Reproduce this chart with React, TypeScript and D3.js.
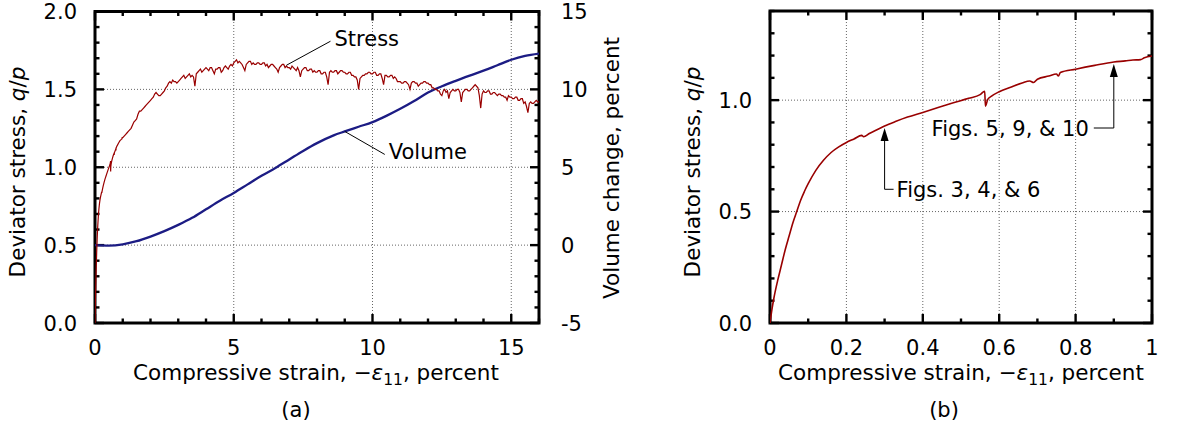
import React from "react";
import * as d3 from "d3";

// ---------- data ----------
// Panel (b) / early part of stress: [compressive strain %, q/p]
const stressEarly: [number, number][] = [
  [0, 0], [0.005, 0.06], [0.01, 0.11], [0.02, 0.19], [0.03, 0.26], [0.04, 0.33],
  [0.05, 0.39], [0.06, 0.45], [0.07, 0.5], [0.08, 0.55], [0.09, 0.59], [0.1, 0.625],
  [0.12, 0.685], [0.14, 0.73], [0.16, 0.765], [0.18, 0.79], [0.2, 0.81], [0.22, 0.826],
  [0.24, 0.842], [0.245, 0.836], [0.26, 0.85], [0.28, 0.867], [0.3, 0.884],
  [0.33, 0.905], [0.36, 0.924], [0.4, 0.945], [0.44, 0.967], [0.48, 0.988],
  [0.52, 1.008], [0.55, 1.025], [0.562, 1.04], [0.564, 0.973], [0.57, 1.003],
  [0.58, 1.018], [0.6, 1.038], [0.63, 1.058], [0.66, 1.077], [0.68, 1.086],
  [0.69, 1.079], [0.7, 1.094], [0.73, 1.108], [0.75, 1.117], [0.755, 1.108],
  [0.76, 1.124], [0.8, 1.139], [0.85, 1.156], [0.9, 1.171], [0.93, 1.176],
  [0.95, 1.18], [0.97, 1.182], [0.98, 1.19], [1.0, 1.198],
];

// Stress, q/p, sampled every 0.05 % strain from 1.0 to 16.0
const stressDenseStart = 1.0;
const stressDenseStep = 0.05;
const stressDense: number[] = [
  1.19, 1.20, 1.21, 1.22, 1.23, 1.24, 1.25, 1.27, 1.29, 1.30, 1.31, 1.34, 1.36, 1.36, 1.37, 1.38, 1.39, 1.40, 1.41, 1.42,
  1.43, 1.44, 1.45, 1.47, 1.48, 1.47, 1.46, 1.46, 1.47, 1.48, 1.49, 1.51, 1.52, 1.54, 1.55, 1.54, 1.56, 1.55, 1.55, 1.54,
  1.55, 1.56, 1.57, 1.58, 1.59, 1.57, 1.58, 1.59, 1.60, 1.58, 1.59, 1.58, 1.52, 1.60, 1.61, 1.62, 1.63, 1.61, 1.62, 1.63,
  1.64, 1.63, 1.62, 1.64, 1.64, 1.62, 1.60, 1.63, 1.63, 1.64, 1.64, 1.61, 1.62, 1.64, 1.65, 1.64, 1.63, 1.65, 1.66, 1.65,
  1.67, 1.68, 1.69, 1.67, 1.68, 1.67, 1.66, 1.64, 1.62, 1.66, 1.67, 1.68, 1.68, 1.66, 1.67, 1.66, 1.66, 1.67, 1.67, 1.66,
  1.66, 1.67, 1.67, 1.65, 1.66, 1.64, 1.65, 1.66, 1.66, 1.65, 1.64, 1.63, 1.61, 1.64, 1.65, 1.66, 1.66, 1.64, 1.65, 1.64,
  1.64, 1.63, 1.65, 1.64, 1.63, 1.62, 1.64, 1.62, 1.58, 1.62, 1.63, 1.64, 1.64, 1.62, 1.62, 1.63, 1.63, 1.61, 1.62, 1.61,
  1.61, 1.62, 1.62, 1.60, 1.60, 1.61, 1.61, 1.58, 1.53, 1.61, 1.62, 1.61, 1.61, 1.62, 1.62, 1.60, 1.61, 1.62, 1.62, 1.61,
  1.61, 1.60, 1.60, 1.61, 1.61, 1.59, 1.59, 1.58, 1.58, 1.56, 1.50, 1.57, 1.58, 1.59, 1.59, 1.60, 1.60, 1.61, 1.61, 1.60,
  1.60, 1.61, 1.61, 1.59, 1.59, 1.60, 1.60, 1.57, 1.53, 1.59, 1.59, 1.58, 1.58, 1.59, 1.59, 1.57, 1.58, 1.57, 1.55, 1.55,
  1.55, 1.54, 1.54, 1.55, 1.55, 1.54, 1.53, 1.50, 1.54, 1.55, 1.55, 1.54, 1.54, 1.52, 1.53, 1.54, 1.54, 1.55, 1.55, 1.54,
  1.54, 1.53, 1.53, 1.51, 1.51, 1.50, 1.50, 1.49, 1.49, 1.47, 1.46, 1.49, 1.50, 1.48, 1.49, 1.44, 1.48, 1.49, 1.50, 1.49,
  1.49, 1.50, 1.50, 1.48, 1.42, 1.48, 1.49, 1.50, 1.50, 1.49, 1.49, 1.50, 1.51, 1.52, 1.53, 1.52, 1.51, 1.46, 1.38, 1.47,
  1.49, 1.48, 1.48, 1.49, 1.49, 1.47, 1.47, 1.48, 1.48, 1.47, 1.46, 1.47, 1.47, 1.46, 1.46, 1.45, 1.45, 1.43, 1.46, 1.45,
  1.45, 1.44, 1.44, 1.45, 1.45, 1.43, 1.43, 1.44, 1.44, 1.41, 1.42, 1.39, 1.35, 1.41, 1.42, 1.41, 1.41, 1.42, 1.43, 1.42,
  1.42,
];

// Volume change, percent: [strain %, volume %]
const volumeData: [number, number][] = [
  [0, 0], [0.5, -0.03], [1, 0.05], [1.5, 0.25], [2, 0.55], [2.5, 0.9], [3, 1.3],
  [3.5, 1.75], [4, 2.3], [4.5, 2.85], [5, 3.35], [5.5, 3.9], [6, 4.45], [6.5, 4.95],
  [7, 5.5], [7.5, 6.05], [8, 6.55], [8.6, 7.05], [9, 7.3], [9.5, 7.6], [10, 7.9],
  [10.5, 8.3], [11, 8.75], [11.5, 9.25], [12, 9.8], [12.5, 10.2], [13, 10.55],
  [13.5, 10.88], [14, 11.2], [14.5, 11.55], [15, 11.9], [15.5, 12.15], [16, 12.3],
];

const aXTicks = [0, 5, 10, 15];
const aYTicks = [0, 0.5, 1.0, 1.5, 2.0];
const aVTicks = [-5, 0, 5, 10, 15];
const bXTicks = [0, 0.2, 0.4, 0.6, 0.8, 1];
const bYTicks = [0, 0.5, 1.0];

const annoB = [
  { label: "Figs. 3, 4, & 6", strain: 0.3, side: "right" },
  { label: "Figs. 5, 9, & 10", strain: 0.9, side: "left" },
];

const FONT = "DejaVu Sans, Verdana, sans-serif";
const FS = 21;
const FT = 21.5;
const RED = "#990000";
const BLUE = "#1c1c84";

type Scale = d3.ScaleLinear<number, number>;

function Frame({ x, y, xMinor, yMinor, xMajor, yMajor, xGrid, yGrid }: {
  x: Scale; y: Scale; xMinor: number[]; yMinor: number[]; xMajor: number[]; yMajor: number[];
  xGrid: number[]; yGrid: number[];
}) {
  const [x0, x1] = x.range();
  const [y0, y1] = y.range();
  const isMaj = (arr: number[], v: number) => arr.some((m) => Math.abs(m - v) < 1e-6);
  return (
    <g>
      {xGrid.map((v) => (
        <line key={"gx" + v} x1={x(v)} x2={x(v)} y1={y0} y2={y1} stroke="#666" strokeWidth={1} strokeDasharray="1 2" />
      ))}
      {yGrid.map((v) => (
        <line key={"gy" + v} x1={x0} x2={x1} y1={y(v)} y2={y(v)} stroke="#666" strokeWidth={1} strokeDasharray="1 2" />
      ))}
      {xMinor.map((v) => {
        const L = isMaj(xMajor, v) ? 9 : 4.5;
        return (
          <g key={"tx" + v}>
            <line x1={x(v)} x2={x(v)} y1={y0} y2={y0 - L} stroke="#000" strokeWidth={2.4} />
            <line x1={x(v)} x2={x(v)} y1={y1} y2={y1 + L} stroke="#000" strokeWidth={2.4} />
          </g>
        );
      })}
      {yMinor.map((v) => {
        const L = isMaj(yMajor, v) ? 9 : 4.5;
        return (
          <g key={"ty" + v}>
            <line x1={x0} x2={x0 + L} y1={y(v)} y2={y(v)} stroke="#000" strokeWidth={2.4} />
            <line x1={x1} x2={x1 - L} y1={y(v)} y2={y(v)} stroke="#000" strokeWidth={2.4} />
          </g>
        );
      })}
      <rect x={x0} y={y1} width={x1 - x0} height={y0 - y1} fill="none" stroke="#000" strokeWidth={3} />
    </g>
  );
}

function XTitle({ cx, y }: { cx: number; y: number }) {
  return (
    <text x={cx} y={y} textAnchor="middle" fontSize={FT} fontFamily={FONT}>
      Compressive strain, −<tspan fontStyle="italic">ε</tspan>
      <tspan fontSize={15.5} dy={5}>11</tspan>
      <tspan dy={-5}>, percent</tspan>
    </text>
  );
}

export default function App() {
  const ax = d3.scaleLinear().domain([0, 16]).range([95, 539]);
  const ay = d3.scaleLinear().domain([0, 2]).range([323, 11.5]);
  const av = d3.scaleLinear().domain([-5, 15]).range([323, 11.5]);
  const bx = d3.scaleLinear().domain([0, 1]).range([770, 1152]);
  const by = d3.scaleLinear().domain([0, 1.4]).range([323, 11]);

  const stressAll: [number, number][] = [
    ...stressEarly.filter((d) => d[0] < stressDenseStart),
    ...stressDense.map((v, i) => [stressDenseStart + i * stressDenseStep, v] as [number, number]),
  ];

  const aStressLine = d3.line<[number, number]>().x((d) => ax(d[0])).y((d) => ay(d[1]));
  const aVolLine = d3.line<[number, number]>().x((d) => ax(d[0])).y((d) => av(d[1])).curve(d3.curveMonotoneX);
  const bLine = d3.line<[number, number]>().x((d) => bx(d[0])).y((d) => by(d[1])).curve(d3.curveMonotoneX);

  const interp = (arr: [number, number][], s: number) => {
    const i = d3.bisector((d: [number, number]) => d[0]).left(arr, s);
    const a = arr[Math.max(0, i - 1)], b = arr[Math.min(arr.length - 1, i)];
    if (b[0] === a[0]) return a[1];
    return a[1] + ((b[1] - a[1]) * (s - a[0])) / (b[0] - a[0]);
  };

  // annotation anchors (panel a)
  const sAnchor = { x: ax(6.9), y: ay(1.655) };
  const vAnchor = { x: ax(9.0), y: av(interp(volumeData, 9.0)) };

  return (
    <svg width={1180} height={432} style={{ display: "block", position: "absolute", left: 0, top: 0 }}
      fontFamily={FONT}>
      <rect width={1180} height={432} fill="#fff" />
      <defs>
        <clipPath id="clipA"><rect x={95} y={11.5} width={444} height={311.5} /></clipPath>
        <clipPath id="clipB"><rect x={770} y={11} width={382} height={312} /></clipPath>
      </defs>

      {/* ---------- panel (a) ---------- */}
      <Frame x={ax} y={ay}
        xMinor={d3.range(0, 16.01, 1)} yMinor={d3.range(0, 2.001, 0.1).map((v) => +v.toFixed(2))}
        xMajor={aXTicks} yMajor={aYTicks} xGrid={[5, 10, 15]} yGrid={[0.5, 1.0, 1.5]} />
      <g clipPath="url(#clipA)">
        <path d={aVolLine(volumeData) || ""} fill="none" stroke={BLUE} strokeWidth={2.3} />
        <path d={aStressLine(stressAll) || ""} fill="none" stroke={RED} strokeWidth={1.2} />
      </g>
      {aYTicks.map((v) => (
        <text key={"aly" + v} x={77} y={ay(v)} dy="0.36em" textAnchor="end" fontSize={FS}>{v.toFixed(1)}</text>
      ))}
      {aVTicks.map((v) => (
        <text key={"arv" + v} x={561} y={av(v)} dy="0.36em" textAnchor="start" fontSize={FS}>{String(v)}</text>
      ))}
      {aXTicks.map((v) => (
        <text key={"ax" + v} x={ax(v)} y={355} textAnchor="middle" fontSize={FS}>{String(v)}</text>
      ))}
      <XTitle cx={316} y={380} />
      <text transform="translate(25,172) rotate(-90)" textAnchor="middle" fontSize={FT}>
        Deviator stress, <tspan fontStyle="italic">q</tspan>/<tspan fontStyle="italic">p</tspan>
      </text>
      <text transform="translate(619,168) rotate(-90)" textAnchor="middle" fontSize={FT}>
        Volume change, percent
      </text>
      <text x={296} y={417} textAnchor="middle" fontSize={FS}>(a)</text>

      {/* annotations panel a */}
      <line x1={sAnchor.x} y1={sAnchor.y} x2={sAnchor.x + 44} y2={sAnchor.y - 24} stroke="#000" strokeWidth={1} />
      <text x={sAnchor.x + 48} y={sAnchor.y - 19} fontSize={FS}>Stress</text>
      <line x1={vAnchor.x} y1={vAnchor.y} x2={vAnchor.x + 40} y2={vAnchor.y + 23} stroke="#000" strokeWidth={1} />
      <text x={vAnchor.x + 44} y={vAnchor.y + 28} fontSize={FS}>Volume</text>

      {/* ---------- panel (b) ---------- */}
      <Frame x={bx} y={by}
        xMinor={d3.range(0, 1.001, 0.1).map((v) => +v.toFixed(2))}
        yMinor={d3.range(0, 1.401, 0.1).map((v) => +v.toFixed(2))}
        xMajor={bXTicks} yMajor={bYTicks} xGrid={[0.2, 0.4, 0.6, 0.8]} yGrid={[0.5, 1.0]} />
      <g clipPath="url(#clipB)">
        <path d={bLine(stressEarly) || ""} fill="none" stroke={RED} strokeWidth={1.6} />
      </g>
      {bYTicks.map((v) => (
        <text key={"bly" + v} x={752} y={by(v)} dy="0.36em" textAnchor="end" fontSize={FS}>{v.toFixed(1)}</text>
      ))}
      {bXTicks.map((v) => (
        <text key={"bx" + v} x={bx(v)} y={355} textAnchor="middle" fontSize={FS}>{String(v)}</text>
      ))}
      <XTitle cx={961} y={380} />
      <text transform="translate(700,172) rotate(-90)" textAnchor="middle" fontSize={FT}>
        Deviator stress, <tspan fontStyle="italic">q</tspan>/<tspan fontStyle="italic">p</tspan>
      </text>
      <text x={944} y={417} textAnchor="middle" fontSize={FS}>(b)</text>

      {annoB.map((a) => {
        const tx = bx(a.strain);
        const tipY = by(interp(stressEarly, a.strain)) + 2;
        const lineY = a.side === "right" ? by(0.6) : by(0.875);
        const hx = a.side === "right" ? tx + 9 : tx - 20;
        return (
          <g key={a.label}>
            <path d={`M${tx},${tipY} L${tx - 4},${tipY + 13} L${tx + 4},${tipY + 13} Z`} fill="#000" />
            <polyline points={`${tx},${tipY + 12} ${tx},${lineY} ${hx},${lineY}`} fill="none" stroke="#000" strokeWidth={1} />
            <text x={a.side === "right" ? hx + 3 : hx - 5} y={lineY} dy="0.36em"
              textAnchor={a.side === "right" ? "start" : "end"} fontSize={FS}>{a.label}</text>
          </g>
        );
      })}
    </svg>
  );
}
